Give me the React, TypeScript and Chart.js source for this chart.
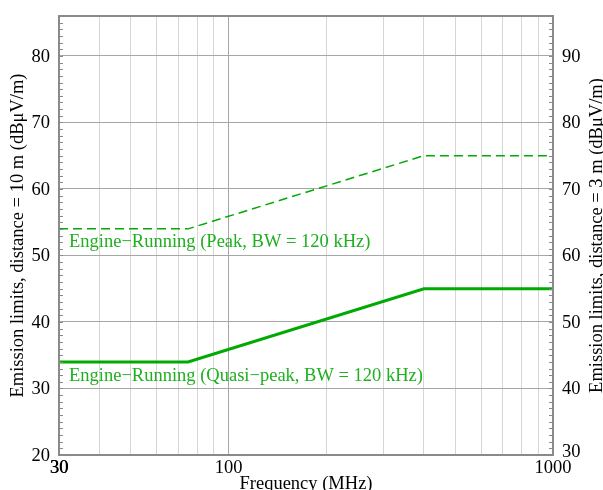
import React, { useEffect, useRef } from 'react';
import { Chart, registerables } from 'chart.js';

Chart.register(...registerables);

const freqMHz = [30, 75, 400, 1000];
const peakLimit = [54, 54, 65, 65];
const quasiPeakLimit = [34, 34, 45, 45];
const xGridValues = [30, 40, 50, 60, 70, 80, 90, 100, 200, 300, 400, 500, 600, 700, 800, 900, 1000];
const xLabelValues = [30, 100, 1000];
const leftTicks = [20, 30, 40, 50, 60, 70, 80];
const rightTicks = [30, 40, 50, 60, 70, 80, 90];
const peakLabel = 'Engine−Running (Peak, BW = 120 kHz)';
const quasiLabel = 'Engine−Running (Quasi−peak, BW = 120 kHz)';
const xTitle = 'Frequency (MHz)';
const leftTitle = 'Emission limits, distance = 10 m (dBμV/m)';
const rightTitle = 'Emission limits, distance = 3 m (dBμV/m)';

const GREEN = '#00aa00';
const TEXT_GREEN = '#1faf1f';
const FONT = '18.5px "Liberation Serif", "DejaVu Serif", serif';
const MAJOR = '#a6a6a6';
const MINOR = '#d6d6d6';
const FRAME = '#8a8a8a';

const decorPlugin = {
  id: 'decor',
  afterDraw(chart: any) {
    const ctx = chart.ctx as CanvasRenderingContext2D;
    const { left, right, top, bottom } = chart.chartArea;
    const x = chart.scales.x;
    const y = chart.scales.y;
    const y2 = chart.scales.y2;
    ctx.save();
    // minor ticks on y axes
    ctx.strokeStyle = FRAME;
    ctx.lineWidth = 1;
    ctx.beginPath();
    for (let v = Math.ceil(y.min); v <= y.max; v++) {
      const py = Math.round(y.getPixelForValue(v)) + 0.5;
      ctx.moveTo(left, py);
      ctx.lineTo(left + 4, py);
    }
    for (let v = Math.ceil(y2.min); v <= y2.max; v++) {
      const py = Math.round(y2.getPixelForValue(v)) + 0.5;
      ctx.moveTo(right - 4, py);
      ctx.lineTo(right, py);
    }
    ctx.stroke();
    // frame
    ctx.strokeStyle = FRAME;
    ctx.lineWidth = 2;
    ctx.strokeRect(left, top, right - left, bottom - top);

    // tick labels
    ctx.fillStyle = '#000';
    ctx.font = FONT;
    ctx.textBaseline = 'middle';
    ctx.textAlign = 'right';
    leftTicks.forEach((v) => ctx.fillText(String(v), left - 9, y.getPixelForValue(v) + 1));
    ctx.textAlign = 'left';
    rightTicks.forEach((v) => ctx.fillText(String(v), right + 9, y2.getPixelForValue(v) + (v === rightTicks[0] ? -3 : 1)));
    ctx.textAlign = 'center';
    ctx.textBaseline = 'top';
    xLabelValues.forEach((v, i) => {
      const px = x.getPixelForValue(v);
      ctx.fillText(String(v), px, bottom + 4);
      if (i === 0) ctx.fillText(String(v), px + 0.4, bottom + 4);
    });
    // x title
    ctx.fillText(xTitle, (left + right) / 2, bottom + 20);
    // y titles
    ctx.textBaseline = 'middle';
    ctx.save();
    ctx.translate(18, (top + bottom) / 2);
    ctx.rotate(-Math.PI / 2);
    ctx.fillText(leftTitle, 0, 0);
    ctx.restore();
    ctx.save();
    ctx.translate(right + 44, (top + bottom) / 2);
    ctx.rotate(-Math.PI / 2);
    ctx.fillText(rightTitle, 0, 0);
    ctx.restore();

    // series labels
    ctx.fillStyle = TEXT_GREEN;
    ctx.textAlign = 'left';
    ctx.fillText(peakLabel, left + 10, y.getPixelForValue(peakLimit[0]) + 13);
    ctx.fillText(quasiLabel, left + 10, y.getPixelForValue(quasiPeakLimit[0]) + 14);
    ctx.restore();
  },
};

export default function App() {
  const ref = useRef<HTMLCanvasElement | null>(null);
  useEffect(() => {
    if (!ref.current) return;
    const chart = new Chart(ref.current, {
      type: 'line',
      data: {
        datasets: [
          {
            label: 'Peak',
            data: freqMHz.map((f, i) => ({ x: f, y: peakLimit[i] })),
            borderColor: GREEN,
            borderWidth: 1.5,
            borderDash: [9, 5],
            pointRadius: 0,
            fill: false,
            tension: 0,
            yAxisID: 'y',
          },
          {
            label: 'Quasi-peak',
            data: freqMHz.map((f, i) => ({ x: f, y: quasiPeakLimit[i] })),
            borderColor: GREEN,
            borderWidth: 3,
            pointRadius: 0,
            fill: false,
            tension: 0,
            yAxisID: 'y',
          },
        ],
      },
      options: {
        animation: false,
        responsive: false,
        maintainAspectRatio: false,
        layout: { padding: { left: 59, right: 50, top: 16, bottom: 35 } },
        plugins: { legend: { display: false }, tooltip: { enabled: false } },
        scales: {
          x: {
            type: 'logarithmic',
            min: 30,
            max: 1000,
            afterBuildTicks: (s: any) => {
              s.ticks = xGridValues.map((v) => ({ value: v }));
            },
            ticks: { display: false },
            border: { display: false },
            grid: {
              drawTicks: false,
              color: (c: any) => (c.tick && c.tick.value === 100 ? MAJOR : MINOR),
              lineWidth: 1,
            },
          },
          y: {
            type: 'linear',
            position: 'left',
            min: 20,
            max: 86,
            afterBuildTicks: (s: any) => {
              s.ticks = leftTicks.map((v) => ({ value: v }));
            },
            ticks: { display: false },
            border: { display: false },
            grid: { drawTicks: false, color: MAJOR, lineWidth: 1 },
          },
          y2: {
            type: 'linear',
            position: 'right',
            min: 30,
            max: 96,
            afterBuildTicks: (s: any) => {
              s.ticks = rightTicks.map((v) => ({ value: v }));
            },
            ticks: { display: false },
            border: { display: false },
            grid: { display: false, drawTicks: false },
          },
        },
      },
      plugins: [decorPlugin],
    } as any);
    return () => chart.destroy();
  }, []);
  return (
    <div style={{ position: 'absolute', left: 0, top: 0, width: 603, height: 490, background: '#fff' }}>
      <canvas ref={ref} width={603} height={490} style={{ display: 'block', width: 603, height: 490 }} />
    </div>
  );
}
